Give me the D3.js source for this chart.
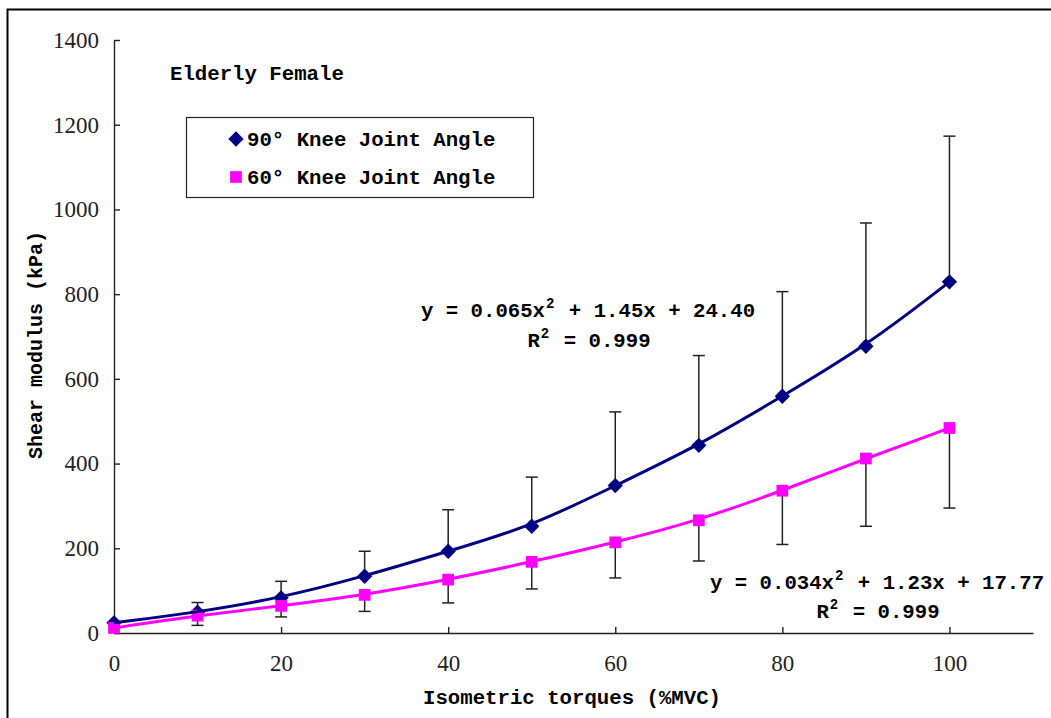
<!DOCTYPE html>
<html>
<head>
<meta charset="utf-8">
<script src="https://cdn.jsdelivr.net/npm/d3@7"></script>
<style>
  body { margin: 0; background: #fff; }
  .tick text { font-family: "Liberation Serif", serif; font-size: 23px; fill: #222; }
  .bold { font-family: "Liberation Mono", monospace; font-weight: bold; font-size: 20.7px; fill: #000; }
</style>
</head>
<body>
<div id="chart"></div>
<script>
// data
const torque = [0, 10, 20, 30, 40, 50, 60, 70, 80, 90, 100];
const knee90 = [24, 49, 83, 134, 193, 252, 348, 443, 559, 677, 829];
const knee90Sd = [0, 23, 39, 59, 98, 116, 174, 212, 247, 291, 344];
const knee60 = [12, 41, 64, 90, 126, 168, 214, 266, 336, 412, 484];
const knee60Sd = [0, 23, 26, 39, 55, 64, 84, 96, 127, 160, 189];
const xTicks = [0, 20, 40, 60, 80, 100];
const yTicks = [0, 200, 400, 600, 800, 1000, 1200, 1400];
const seriesNames = ["90\u00b0 Knee Joint Angle", "60\u00b0 Knee Joint Angle"];

const W = 1051, H = 718;
const navy = "#000080", magenta = "#ff00ff";

const svg = d3.select("#chart").append("svg")
  .attr("width", W).attr("height", H);

// outer frame (right and bottom edges fall outside the picture)
svg.append("rect")
  .attr("x", 7.5).attr("y", 9.5)
  .attr("width", W).attr("height", H)
  .attr("fill", "none").attr("stroke", "#000").attr("stroke-width", 2);

const x = d3.scaleLinear().domain([0, 110]).range([114, 1033]);
const y = d3.scaleLinear().domain([0, 1400]).range([633, 40]);

const xAxis = svg.append("g")
  .attr("transform", `translate(0,${y(0)})`)
  .call(d3.axisBottom(x).tickValues(xTicks).tickFormat(d3.format("d"))
    .tickSize(-6).tickSizeOuter(0).tickPadding(22));
const yAxis = svg.append("g")
  .attr("transform", `translate(${x(0)},0)`)
  .call(d3.axisLeft(y).tickValues(yTicks).tickFormat(d3.format("d"))
    .tickSize(-6).tickSizeOuter(0).tickPadding(15));
[xAxis, yAxis].forEach(a => {
  a.select(".domain").attr("stroke", "#222").attr("stroke-width", 1.4);
  a.selectAll(".tick line").attr("stroke", "#222").attr("stroke-width", 1.4);
});

const pts90 = torque.map((t, i) => ({ t, v: knee90[i], sd: knee90Sd[i] }));
const pts60 = torque.map((t, i) => ({ t, v: knee60[i], sd: knee60Sd[i] }));

// error bars: 90° upward only, 60° downward only
function errorBars(pts, dir) {
  const g = svg.append("g").attr("stroke", "#222").attr("stroke-width", 1.5);
  const withSd = pts.filter(d => d.sd > 0);
  g.selectAll("line.stem").data(withSd).join("line")
    .attr("x1", d => x(d.t)).attr("x2", d => x(d.t))
    .attr("y1", d => y(d.v)).attr("y2", d => y(d.v + dir * d.sd));
  g.selectAll("line.cap").data(withSd).join("line")
    .attr("x1", d => x(d.t) - 6).attr("x2", d => x(d.t) + 6)
    .attr("y1", d => y(d.v + dir * d.sd)).attr("y2", d => y(d.v + dir * d.sd));
}
errorBars(pts90, 1);
errorBars(pts60, -1);

const diamond = d3.symbol().type(d3.symbolDiamond2).size(150);
const square = d3.symbol().type(d3.symbolSquare2).size(175);

svg.append("g").selectAll("path").data(pts90).join("path")
  .attr("d", diamond)
  .attr("transform", d => `translate(${x(d.t)},${y(d.v)})`)
  .attr("fill", navy);
svg.append("g").selectAll("path").data(pts60).join("path")
  .attr("d", square)
  .attr("transform", d => `translate(${x(d.t)},${y(d.v)})`)
  .attr("fill", magenta);

// smooth trend curves through the points
const line = d3.line().x(d => x(d.t)).y(d => y(d.v)).curve(d3.curveBasis);
svg.append("path").datum(pts90).attr("d", line)
  .attr("fill", "none").attr("stroke", navy).attr("stroke-width", 3);
svg.append("path").datum(pts60).attr("d", line)
  .attr("fill", "none").attr("stroke", magenta).attr("stroke-width", 3);

// titles
svg.append("text").attr("class", "bold")
  .attr("x", 170).attr("y", 73).attr("dy", "0.35em")
  .text("Elderly Female");

svg.append("text").attr("class", "bold")
  .attr("x", 572).attr("y", 697).attr("dy", "0.35em")
  .attr("text-anchor", "middle")
  .text("Isometric torques (%MVC)");

svg.append("text").attr("class", "bold")
  .attr("transform", "translate(35,345) rotate(-90)")
  .attr("dy", "0.35em")
  .attr("text-anchor", "middle")
  .style("font-size", "20px")
  .text("Shear modulus (kPa)");

// legend
const legend = svg.append("g");
legend.append("rect")
  .attr("x", 186.5).attr("y", 117.5).attr("width", 347).attr("height", 80)
  .attr("fill", "#fff").attr("stroke", "#222").attr("stroke-width", 1.2);
[[diamond, navy], [square, magenta]].forEach(([sym, col], i) => {
  const cy = 139 + i * 38;
  legend.append("path").attr("d", sym)
    .attr("transform", `translate(236,${cy})`).attr("fill", col);
  legend.append("text").attr("class", "bold")
    .attr("x", 247).attr("y", cy).attr("dy", "0.35em")
    .text(seriesNames[i]);
});

// trendline equations
function equation(cx, cy, a, rest) {
  const t = svg.append("text").attr("class", "bold")
    .attr("x", cx).attr("y", cy).attr("dy", "0.35em")
    .attr("text-anchor", "middle").style("white-space", "pre");
  t.append("tspan").text(a);
  t.append("tspan").attr("dy", -9).attr("dx", 1).style("font-size", "14px").text("2");
  t.append("tspan").attr("dy", 9).attr("dx", 2).text(rest);
}
equation(588, 310, "y = 0.065x", " + 1.45x + 24.40");
equation(589, 340, "R", " = 0.999");
equation(877, 582, "y = 0.034x", " + 1.23x + 17.77");
equation(878, 611, "R", " = 0.999");
</script>
</body>
</html>
